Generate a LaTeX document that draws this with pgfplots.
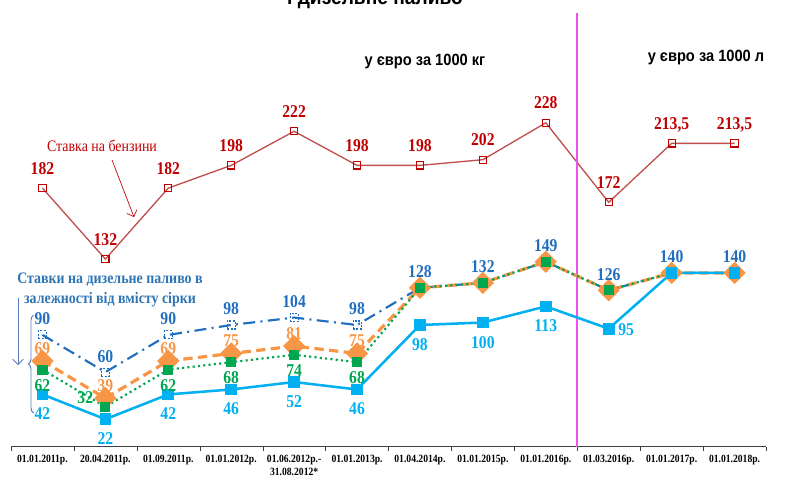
\documentclass[border=0pt]{standalone}
\usepackage{fontspec}
\setmainfont{Liberation Serif}
\newfontfamily\nserif[FakeStretch=0.87]{Liberation Serif}
\newfontfamily\nsans[FakeStretch=0.9]{Liberation Sans}
\usepackage{pgfplots}
\pgfplotsset{compat=1.18}
\usepackage{pgfplotstable}
\usetikzlibrary{decorations.pathreplacing,arrows.meta}

\definecolor{petrol}{HTML}{C0504D}
\definecolor{petrollab}{HTML}{C00000}
\definecolor{dblue}{HTML}{1F6EBF}
\definecolor{dorange}{HTML}{F79646}
\definecolor{dgreen}{HTML}{00A650}
\definecolor{lblue}{HTML}{00B0F0}
\definecolor{txtblue}{HTML}{2E75B6}
\definecolor{bracecol}{HTML}{5B7DB8}
\definecolor{magline}{HTML}{F050F0}

\newcommand\labfont{\nserif\bfseries\fontsize{13.5}{14}\selectfont}

% petrol, EUR per 1000 kg / 1000 l
\pgfplotstableread{
x petrol
0 182
1 132
2 182
3 198
4 222
5 198
6 198
7 202
8 228
9 172
10 213.5
11 213.5
}\petroltab

% diesel by sulphur content
\pgfplotstableread{
x hi orange green low
0 90 69 62 42
1 60 39 32 22
2 90 69 62 42
3 98 75 68 46
4 104 81 74 52
5 98 75 68 46
6 128 128 128 98
7 132 132 132 100
8 149 149 149 113
9 126 126 126 95
10 140 140 140 140
11 140 140 140 140
}\dieseltab

\pgfplotsset{
  base/.style={scale only axis, width=566.25pt, height=325.1pt,
    xmin=-0.5, xmax=11.5, ymin=0, clip=false,
    /pgf/number format/.cd, assume math mode=true, use comma, 1000 sep={}},
  lab/.style={draw=none, mark=none, point meta=y, nodes near coords,
    every node near coord/.style={font=\labfont, text=#1, inner sep=0pt}},
}

\begin{document}
\begin{tikzpicture}
% petrol
\begin{axis}[base, ymax=305.3, hide axis]
\addplot[petrol, line width=1pt, mark=square, mark size=2.7pt,
  mark options={petrollab, fill=white, line width=0.8pt}] table[x=x,y=petrol]{\petroltab};
\addplot[lab=petrollab, every node near coord/.append style={anchor=base, yshift=10.5pt}]
  table[x=x,y=petrol]{\petroltab};
\end{axis}

% diesel
\begin{axis}[base, ymax=349.6,
  axis y line=none, axis x line=bottom, x axis line style={-, black!75},
  xtick={0,...,11}, major tick length=0pt,
  minor xtick={-0.5,0.5,...,11.5}, minor tick length=3.5pt, tick align=outside,
  minor tick style={black!75},
  xticklabels={01.01.2011р.,20.04.2011р.,01.09.2011р.,01.01.2012р.,
    {01.06.2012р.-\\31.08.2012*},01.01.2013р.,01.04.2014р.,01.01.2015р.,
    01.01.2016р.,01.03.2016р.,01.01.2017р.,01.01.2018р.},
  xticklabel style={font=\nserif\bfseries\fontsize{8.3}{9.5}\selectfont, align=center, yshift=-3pt}]
\draw[color=magline, line width=1.2pt] (axis cs:8.5,0) -- (axis cs:8.5,349.6);

\addplot[dblue, line width=1.6pt, dash pattern=on 9pt off 4pt on 1.5pt off 4pt,
  mark=square, mark size=3pt, mark options={solid, fill=white, line width=0.8pt, dash pattern=on 1.5pt off 1pt}]
  table[x=x,y=hi]{\dieseltab};
\addplot[dorange, line width=2.4pt, dash pattern=on 7pt off 4pt,
  mark=square*, mark size=4.7pt, mark options={solid, rotate=45}]
  table[x=x,y=orange]{\dieseltab};
\addplot[dgreen, line width=1.6pt, dash pattern=on 1.6pt off 2.4pt,
  mark=square*, mark size=3pt, mark options={solid}]
  table[x=x,y=green]{\dieseltab};
\addplot[lblue, line width=1.9pt, mark=square*, mark size=3.4pt]
  table[x=x,y=low]{\dieseltab};

% value labels
\addplot[lab=dblue, every node near coord/.append style={anchor=base, yshift=7.5pt}]
  table[x=x,y=hi]{\dieseltab};
\addplot[lab=dorange, restrict x to domain=0:5, every node near coord/.append style={anchor=base, yshift=5pt}]
  table[x=x,y=orange]{\dieseltab};
\addplot[lab=dgreen, restrict x to domain=0:0, every node near coord/.append style={anchor=north, yshift=-7pt}]
  table[x=x,y=green]{\dieseltab};
\addplot[lab=dgreen, restrict x to domain=1:1, every node near coord/.append style={anchor=east, xshift=-9pt, yshift=7pt}]
  table[x=x,y=green]{\dieseltab};
\addplot[lab=dgreen, restrict x to domain=2:5, every node near coord/.append style={anchor=north, yshift=-7pt}]
  table[x=x,y=green]{\dieseltab};
\addplot[lab=lblue, restrict x to domain=0:8, every node near coord/.append style={anchor=north, yshift=-10pt}]
  table[x=x,y=low]{\dieseltab};
\addplot[lab=lblue, restrict x to domain=9:9, every node near coord/.append style={anchor=west, xshift=7pt, yshift=-1pt}]
  table[x=x,y=low]{\dieseltab};
\end{axis}

% annotations
\node[font=\nsans\bfseries\fontsize{16}{18}\selectfont] at (273pt,336pt) {і дизельне паливо};
\node[font=\nsans\bfseries\fontsize{12.2}{14}\selectfont] at (310.5pt,288.4pt) {у євро за 1000 кг};
\node[font=\nsans\bfseries\fontsize{12.2}{14}\selectfont] at (521.25pt,292.1pt) {у євро за 1000 л};
\node[font=\nserif\fontsize{12}{14}\selectfont, text=petrollab] at (68.25pt,225.4pt) {Ставка на бензини};
\draw[petrollab, line width=0.5pt, -{Straight Barb[length=4pt]}] (75.75pt,214.9pt) -- (92.25pt,172.1pt);
\node[font=\nserif\bfseries\fontsize{12}{15}\selectfont, text=txtblue, align=center]
  at (74.25pt,117.4pt) {Ставки на дизельне паливо в\\залежності від вмісту сірки};
\draw[bracecol, line width=0.7pt, decorate, decoration={brace, amplitude=4pt}] (17pt,25.1pt) -- (17pt,98.6pt);
\draw[bracecol, line width=0.6pt, -{Straight Barb[length=4pt]}] (5.25pt,111.4pt) -- (5.25pt,61.1pt);

\pgfresetboundingbox
\useasboundingbox (-8.25pt,-25.125pt) rectangle (580.5pt,334.875pt);
\end{tikzpicture}
\end{document}
